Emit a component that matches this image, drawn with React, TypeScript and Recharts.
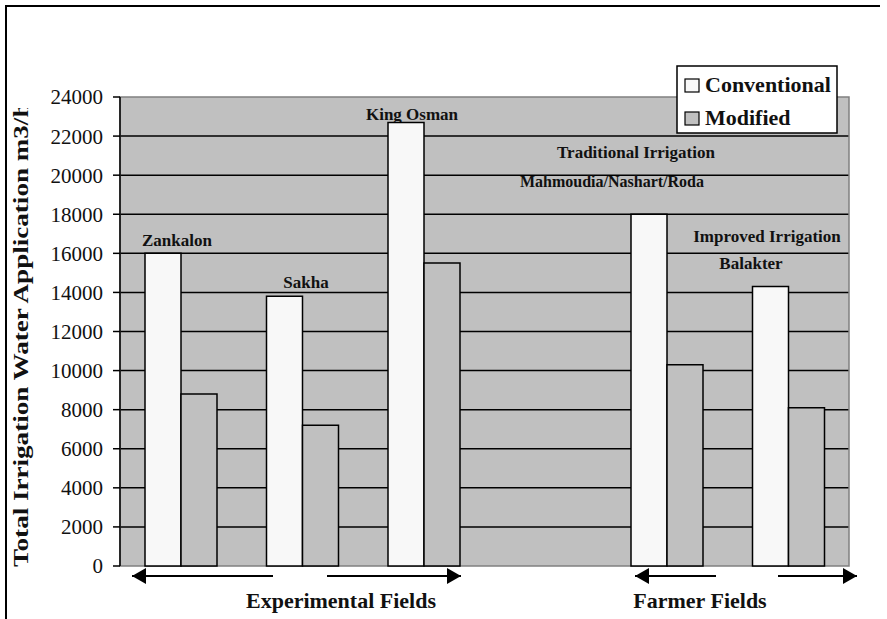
import React from "react";
import {
  BarChart,
  Bar,
  XAxis,
  YAxis,
  CartesianGrid,
  Customized,
} from "recharts";

const categories = [
  "Zankalon",
  "Sakha",
  "King Osman",
  "(gap)",
  "Mahmoudia/Nashart/Roda",
  "Balakter",
];
const conventional = [16000, 13800, 22700, null, 18000, 14300];
const modified = [8800, 7200, 15500, null, 10300, 8100];
const yTicks = [0, 2000, 4000, 6000, 8000, 10000, 12000, 14000, 16000, 18000, 20000, 22000, 24000];
const seriesNames = ["Conventional", "Modified"];
const seriesColors = ["#f8f8f8", "#c0c0c0"];

const data = categories.map((name, i) => ({
  name,
  conventional: conventional[i],
  modified: modified[i],
}));

const FONT = "'Liberation Serif', 'DejaVu Serif', serif";
const W = 887;
const H = 619;

// plot box (matches the chart margins below)
const PLOT = { x: 120, y: 97, w: 729, h: 469 };

const Arrow = ({ x1, x2, y, head }: { x1: number; x2: number; y: number; head: "left" | "right" }) => {
  const tip = head === "left" ? x1 : x2;
  const back = head === "left" ? tip + 14 : tip - 14;
  return (
    <g>
      <line x1={x1} x2={x2} y1={y} y2={y} stroke="#000" strokeWidth={2} />
      <polygon points={`${tip},${y} ${back},${y - 8} ${back},${y + 8}`} fill="#000" />
    </g>
  );
};

const Overlay = () => {
  const note = { fontFamily: FONT, fontSize: 17, fontWeight: 700, fill: "#111", textAnchor: "middle" as const };
  const group = { fontFamily: FONT, fontSize: 22, fontWeight: 700, fill: "#111", textAnchor: "middle" as const };
  return (
    <g>
      {/* outer frame */}
      <polyline points={`6,${H} 6,6 880,6`} fill="none" stroke="#000" strokeWidth={2} />

      {/* plot border */}
      <rect x={PLOT.x} y={PLOT.y} width={PLOT.w} height={PLOT.h} fill="none" stroke="#808080" strokeWidth={1.5} />
      <line x1={PLOT.x} x2={PLOT.x} y1={PLOT.y} y2={PLOT.y + PLOT.h} stroke="#000" strokeWidth={1.5} />

      {/* y axis title, cut off at the top */}
      <defs>
        <clipPath id="ytitle-clip">
          <rect x={0} y={108} width={60} height={480} />
        </clipPath>
      </defs>
      <g clipPath="url(#ytitle-clip)">
        <text
          x={28}
          y={567}
          transform="rotate(-90 28 567)"
          fontFamily={FONT}
          fontSize={20}
          fontWeight={700}
          fill="#111"
          textLength={478}
          lengthAdjust="spacingAndGlyphs"
        >
          Total Irrigation Water Application m3/ha
        </text>
      </g>

      {/* site notes */}
      <text x={177} y={246} {...note}>Zankalon</text>
      <text x={306} y={288} {...note}>Sakha</text>
      <text x={412} y={120} {...note}>King Osman</text>
      <text x={636} y={158} {...note}>Traditional Irrigation</text>
      <text x={612} y={187} {...note} fontSize={16}>Mahmoudia/Nashart/Roda</text>
      <text x={767} y={242} {...note}>Improved Irrigation</text>
      <text x={751} y={269} {...note}>Balakter</text>

      {/* field groups */}
      <Arrow x1={132} x2={273} y={576} head="left" />
      <Arrow x1={327} x2={461} y={576} head="right" />
      <Arrow x1={635} x2={716} y={576} head="left" />
      <Arrow x1={778} x2={857} y={576} head="right" />
      <text x={341} y={608} {...group}>Experimental Fields</text>
      <text x={700} y={608} {...group}>Farmer Fields</text>

      {/* legend */}
      <rect x={677} y={66} width={160} height={67} fill="#fff" stroke="#000" strokeWidth={1.5} />
      {seriesNames.map((name, i) => (
        <g key={name}>
          <rect x={685} y={79 + i * 33} width={14} height={13} fill={seriesColors[i]} stroke="#000" strokeWidth={1.2} />
          <text x={705} y={92 + i * 33} fontFamily={FONT} fontSize={22} fontWeight={700} fill="#111">
            {name}
          </text>
        </g>
      ))}
    </g>
  );
};

export default function App() {
  return (
    <div style={{ position: "absolute", left: 0, top: 0, width: W, height: H, background: "#fff", fontFamily: FONT }}>
      <BarChart
        width={W}
        height={H}
        data={data}
        margin={{ top: PLOT.y, right: W - PLOT.x - PLOT.w, bottom: H - PLOT.y - PLOT.h, left: PLOT.x - 60 }}
        barGap={0}
        barSize={36}
      >
        <CartesianGrid
          vertical={false}
          horizontalValues={yTicks.filter((t) => t > 0 && t < 24000)}
          stroke="#000"
          strokeWidth={1.5}
          fill="#c0c0c0"
          fillOpacity={1}
        />
        <XAxis dataKey="name" tick={false} tickLine={false} axisLine={false} height={0} />
        <YAxis
          width={60}
          domain={[0, 24000]}
          ticks={yTicks}
          interval={0}
          axisLine={false}
          tickLine={{ stroke: "#000", strokeWidth: 1.5 }}
          tickSize={7}
          tickMargin={10}
          tick={{ fontFamily: FONT, fontSize: 21, fill: "#111" }}
        />
        <Bar dataKey="conventional" name={seriesNames[0]} fill={seriesColors[0]} stroke="#000" strokeWidth={1.5} isAnimationActive={false} />
        <Bar dataKey="modified" name={seriesNames[1]} fill={seriesColors[1]} stroke="#000" strokeWidth={1.5} isAnimationActive={false} />
        <Customized component={<Overlay />} />
      </BarChart>
    </div>
  );
}
